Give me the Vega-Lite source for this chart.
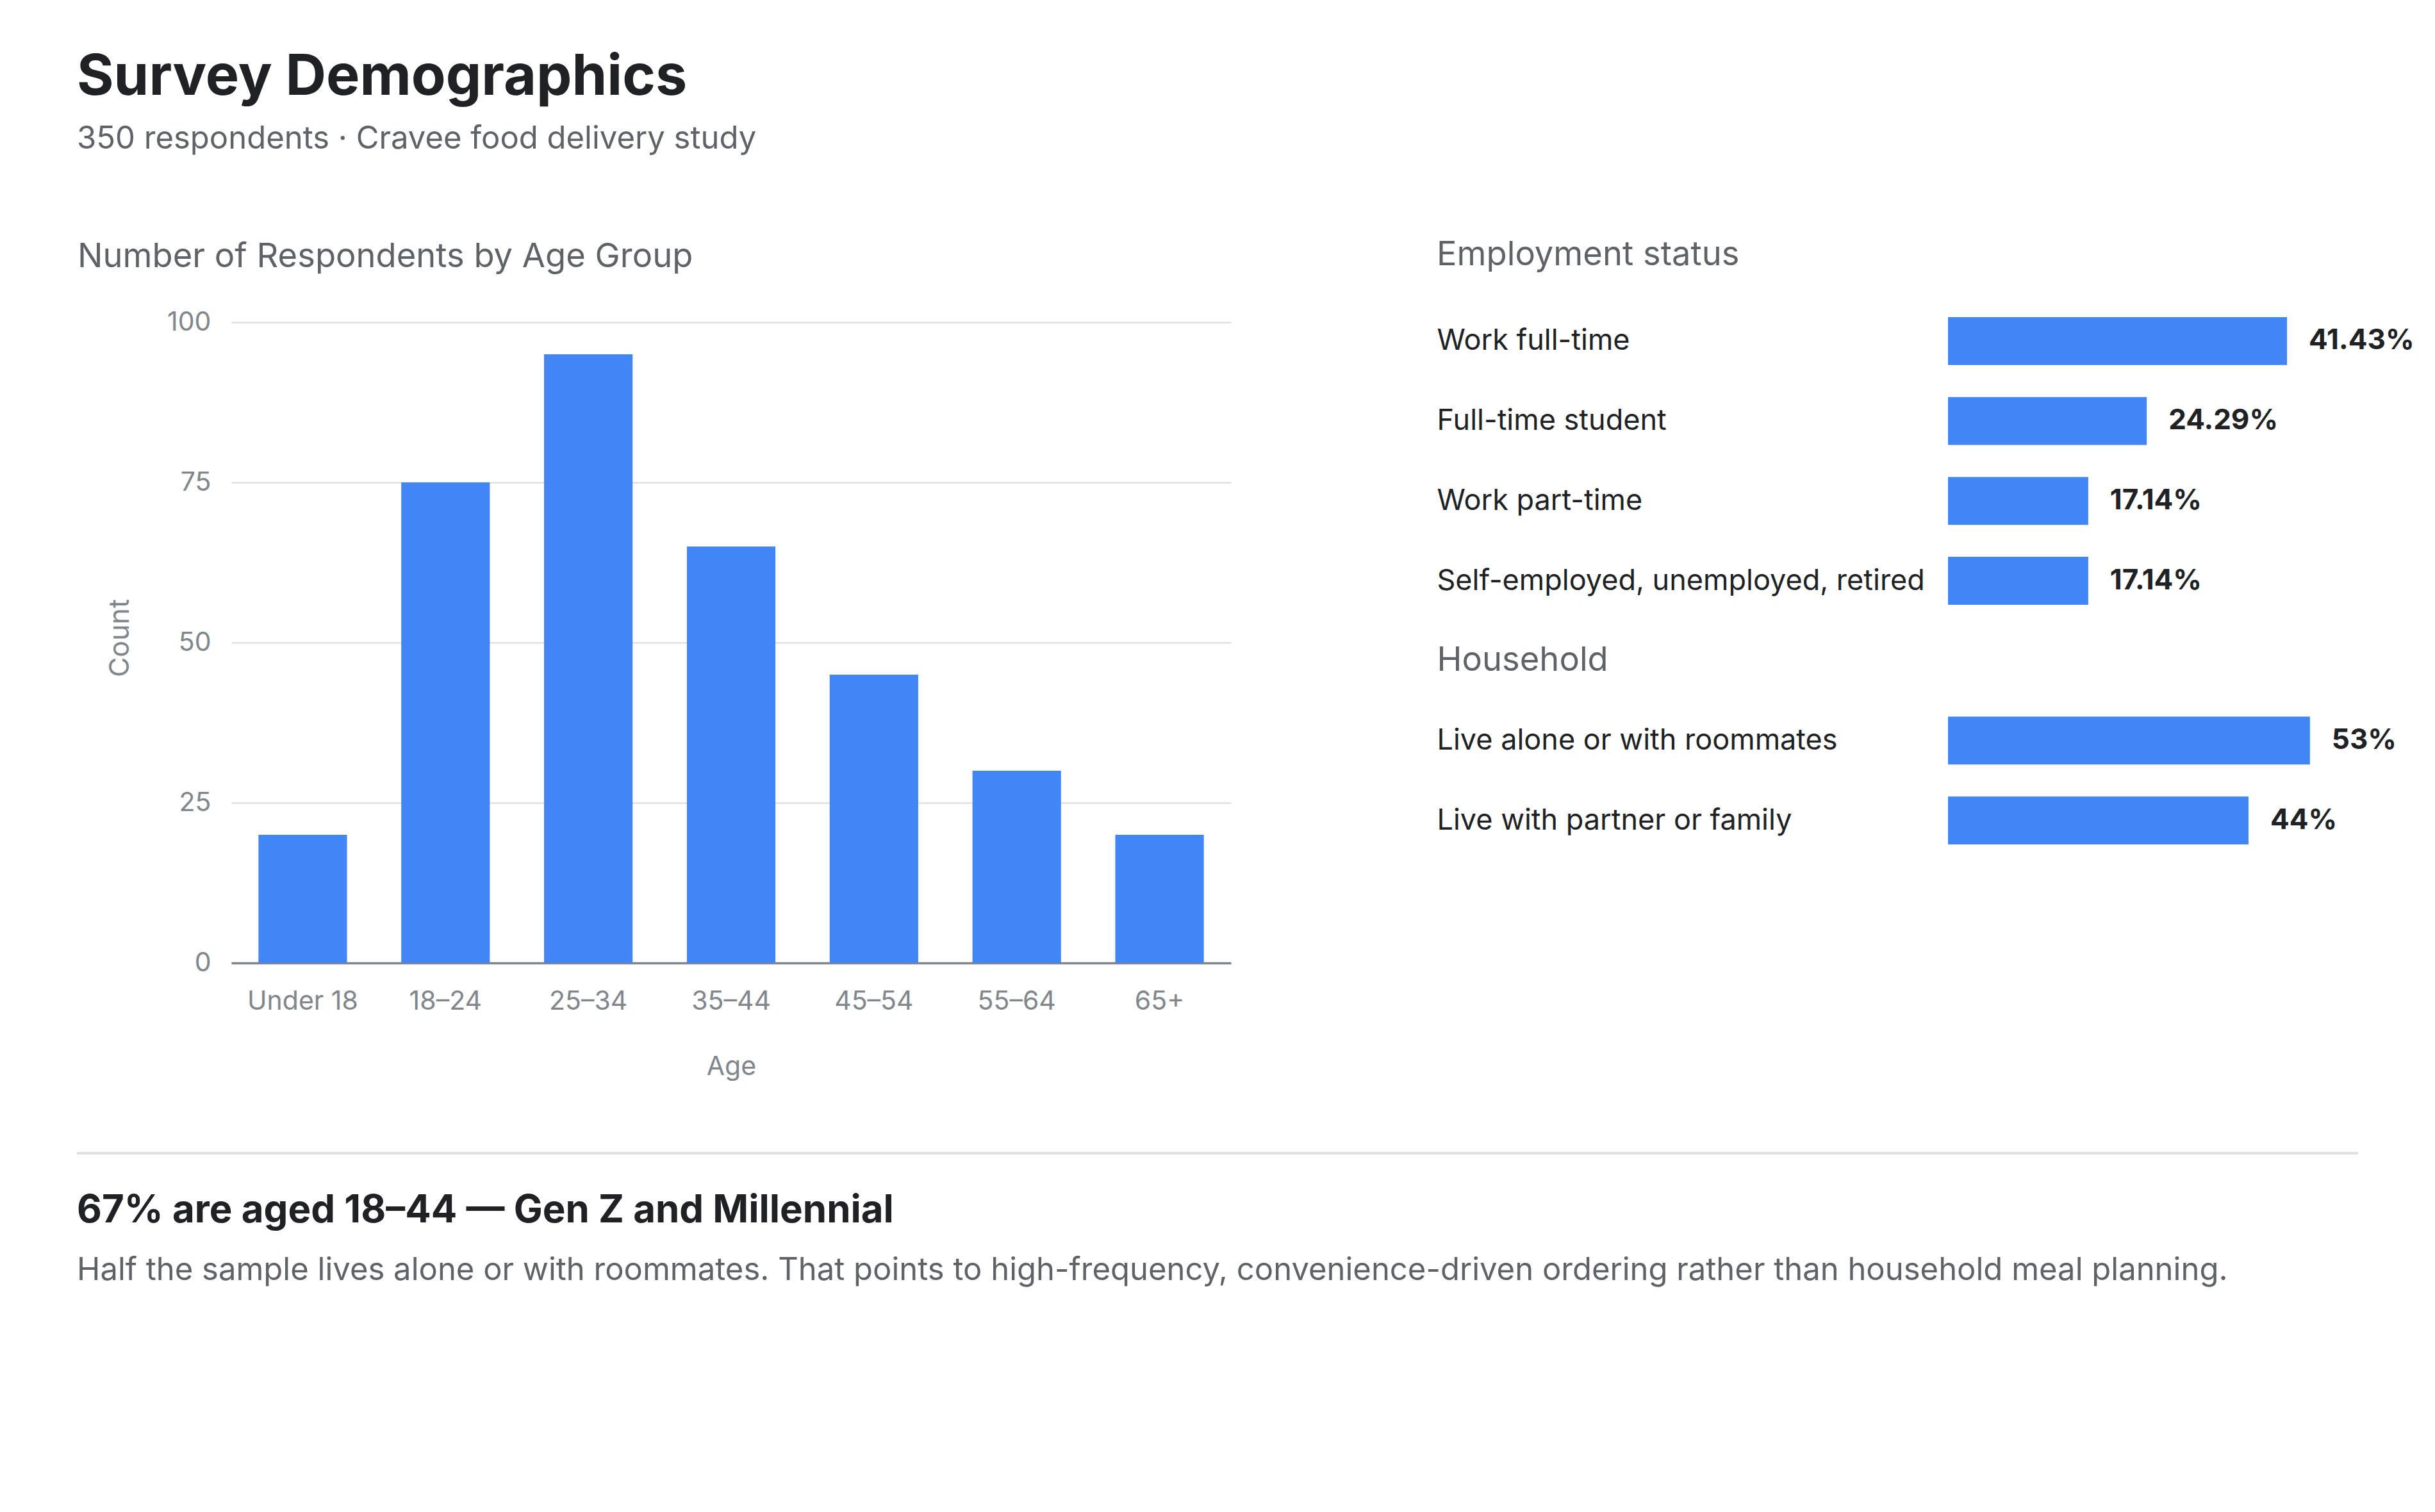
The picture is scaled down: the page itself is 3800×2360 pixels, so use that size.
{
  "$schema": "https://vega.github.io/schema/vega-lite/v6.json",
  "background": "white",
  "padding": {"left": 118, "top": 77, "right": 10, "bottom": 80},
  "autosize": {"type": "pad"},
  "config": {
    "font": "Inter",
    "view": {"stroke": null}
  },
  "title": {
    "text": "Survey Demographics",
    "subtitle": "350 respondents · Cravee food delivery study",
    "anchor": "start",
    "frame": "group",
    "font": "Inter",
    "fontSize": 88,
    "fontWeight": 700,
    "color": "#202124",
    "subtitleFont": "Inter",
    "subtitleFontSize": 49,
    "subtitleFontWeight": 400,
    "subtitleColor": "#5f6368",
    "subtitlePadding": 27,
    "offset": 130
  },
  "spacing": 113,
  "vconcat": [
    {
      "spacing": 0,
      "hconcat": [
        {
          "width": 1,
          "height": 1,
          "data": {"values": []},
          "mark": "point"
        },
        {
          "spacing": 321,
          "hconcat": [
            {
              "width": 1560,
              "height": 1015,
              "title": {
                "text": "Number of Respondents by Age Group",
                "anchor": "start",
                "frame": "group",
                "dx": -240,
                "offset": 54,
                "fontSize": 52.5,
                "fontWeight": 400,
                "color": "#5f6368"
              },
              "data": {
                "values": [
                  {"age": "Under 18", "count": 20},
                  {"age": "18–24", "count": 75},
                  {"age": "25–34", "count": 95},
                  {"age": "35–44", "count": 65},
                  {"age": "45–54", "count": 45},
                  {"age": "55–64", "count": 30},
                  {"age": "65+", "count": 20}
                ]
              },
              "mark": {"type": "bar", "color": "#4285f4"},
              "encoding": {
                "x": {
                  "field": "age",
                  "type": "ordinal",
                  "sort": null,
                  "title": "Age",
                  "scale": {"paddingInner": 0.38, "paddingOuter": 0.19},
                  "axis": {
                    "labelAngle": 0,
                    "labelFontSize": 41,
                    "labelColor": "#80868b",
                    "labelPadding": 40,
                    "ticks": false,
                    "tickSize": 0,
                    "domainColor": "#80868b",
                    "domainWidth": 3.5,
                    "titleFontSize": 41,
                    "titleFontWeight": 400,
                    "titleColor": "#80868b",
                    "titlePadding": 62
                  }
                },
                "y": {
                  "field": "count",
                  "type": "quantitative",
                  "title": "Count",
                  "scale": {"domain": [0, 101.5], "nice": false},
                  "axis": {
                    "values": [0, 25, 50, 75, 100],
                    "labelFontSize": 41,
                    "labelColor": "#80868b",
                    "labelPadding": 32,
                    "ticks": false,
                    "tickSize": 0,
                    "domain": false,
                    "gridColor": "#e0e0e0",
                    "gridWidth": 2.5,
                    "titleFontSize": 43,
                    "titleFontWeight": 400,
                    "titleColor": "#80868b",
                    "titlePadding": 51
                  }
                }
              }
            },
            {
              "width": 730,
              "height": 837,
              "title": {
                "text": "Employment status",
                "anchor": "start",
                "frame": "group",
                "dx": -798,
                "offset": 63,
                "fontSize": 52.5,
                "fontWeight": 400,
                "color": "#5f6368"
              },
              "encoding": {
                "y": {
                  "field": "item",
                  "type": "nominal",
                  "sort": null,
                  "title": null,
                  "scale": {
                    "domain": [
                      "Work full-time",
                      "Full-time student",
                      "Work part-time",
                      "Self-employed, unemployed, retired",
                      "Household",
                      "Live alone or with roommates",
                      "Live with partner or family"
                    ],
                    "paddingInner": 0.4,
                    "paddingOuter": 0.056
                  },
                  "axis": {
                    "labelAlign": "left",
                    "labelPadding": 798,
                    "labelLimit": 790,
                    "ticks": false,
                    "tickSize": 0,
                    "domain": false,
                    "grid": false,
                    "labelFontSize": {"condition": {"test": "datum.value === 'Household'", "value": 52.5}, "value": 45},
                    "labelColor": {"condition": {"test": "datum.value === 'Household'", "value": "#5f6368"}, "value": "#202124"}
                  }
                }
              },
              "layer": [
                {
                  "data": {
                    "values": [
                      {"item": "Work full-time", "share": 0.4143},
                      {"item": "Full-time student", "share": 0.2429},
                      {"item": "Work part-time", "share": 0.1714},
                      {"item": "Self-employed, unemployed, retired", "share": 0.1714}
                    ]
                  },
                  "encoding": {
                    "x": {"field": "share", "type": "quantitative", "scale": {"domain": [0, 0.5717]}, "axis": null}
                  },
                  "layer": [
                    {"mark": {"type": "bar", "color": "#4285f4"}},
                    {
                      "mark": {"type": "text", "align": "left", "baseline": "middle", "dx": 34, "fontSize": 44, "fontWeight": 700, "color": "#202124"},
                      "encoding": {"text": {"field": "share", "type": "quantitative", "format": ".2~%"}}
                    }
                  ]
                },
                {
                  "data": {
                    "values": [
                      {"item": "Live alone or with roommates", "share": 0.53},
                      {"item": "Live with partner or family", "share": 0.44}
                    ]
                  },
                  "encoding": {
                    "x": {"field": "share", "type": "quantitative", "scale": {"domain": [0, 0.685]}, "axis": null}
                  },
                  "layer": [
                    {"mark": {"type": "bar", "color": "#4285f4"}},
                    {
                      "mark": {"type": "text", "align": "left", "baseline": "middle", "dx": 34, "fontSize": 44, "fontWeight": 700, "color": "#202124"},
                      "encoding": {"text": {"field": "share", "type": "quantitative", "format": ".2~%"}}
                    }
                  ]
                }
              ],
              "resolve": {"scale": {"x": "independent"}}
            }
          ]
        }
      ]
    },
    {
      "width": 3560,
      "height": 2,
      "data": {"values": [{"divider": 1}]},
      "title": {
        "text": "67% are aged 18–44 — Gen Z and Millennial",
        "subtitle": "Half the sample lives alone or with roommates. That points to high-frequency, convenience-driven ordering rather than household meal planning.",
        "orient": "bottom",
        "anchor": "start",
        "frame": "group",
        "offset": 59,
        "fontSize": 60,
        "fontWeight": 700,
        "color": "#202124",
        "subtitleFontSize": 49,
        "subtitleFontWeight": 400,
        "subtitleColor": "#5f6368",
        "subtitlePadding": 38
      },
      "mark": {"type": "rule", "color": "#e0e0e0", "strokeWidth": 4},
      "encoding": {
        "y": {"field": "divider", "type": "quantitative", "scale": {"domain": [0, 1]}, "axis": null}
      }
    }
  ]
}
